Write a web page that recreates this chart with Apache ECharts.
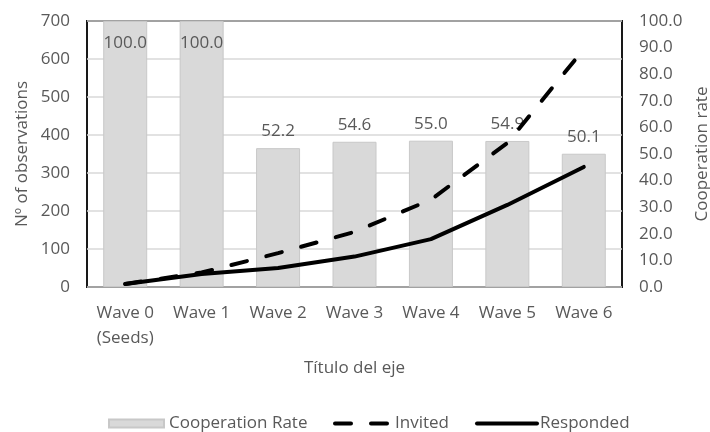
<!DOCTYPE html>
<html>
<head>
<meta charset="utf-8">
<script src="https://cdn.jsdelivr.net/npm/echarts@6/dist/echarts.min.js"></script>
<style>
  html, body { margin: 0; padding: 0; background: #fff; }
  #chart { width: 710px; height: 432px; }
</style>
</head>
<body>
<div id="chart"></div>
<script>
// Survey waves and their figures
const waves = ['Wave 0\n(Seeds)', 'Wave 1', 'Wave 2', 'Wave 3', 'Wave 4', 'Wave 5', 'Wave 6'];
const cooperationRate = [100.0, 100.0, 52.2, 54.6, 55.0, 54.9, 50.1];
const invited = [8, 38, 89, 145, 230, 379, 626];
const responded = [8, 34, 50, 80, 126, 216, 316];

const FONT = '"Open Sans", sans-serif';
const TEXT = '#595959';
const GRID = { left: 87, right: 88, top: 21, bottom: 145 };

const chart = echarts.init(document.getElementById('chart'), null, { renderer: 'canvas' });

const legendText = { fontFamily: FONT, fontSize: 17, color: TEXT };
const plotMidY = GRID.top + (432 - GRID.top - GRID.bottom) / 2;

chart.setOption({
  animation: false,
  backgroundColor: '#fff',
  textStyle: { fontFamily: FONT },
  grid: Object.assign({
    outerBoundsMode: 'none',
    containLabel: false,
    show: true, borderColor: '#000', borderWidth: 1.8, backgroundColor: 'transparent'
  }, GRID),
  legend: [
    {
      left: 108, top: 415, padding: 0, itemWidth: 55, itemHeight: 8, itemGap: 0, selectedMode: false,
      textStyle: legendText,
      data: [{ name: 'Cooperation Rate', icon: 'rect' }]
    },
    {
      left: 333, top: 415, padding: 0, itemWidth: 55, itemHeight: 14, itemGap: 0, selectedMode: false,
      textStyle: legendText,
      itemStyle: { opacity: 0 },
      lineStyle: { width: 4 },
      data: ['Invited']
    },
    {
      left: 475, top: 415, padding: 0, itemWidth: 60, itemHeight: 14, itemGap: 0, selectedMode: false,
      textStyle: Object.assign({}, legendText, { padding: [0, 0, 0, -2] }),
      itemStyle: { opacity: 0 },
      lineStyle: { width: 4 },
      data: ['Responded']
    }
  ],
  // vertical axis titles
  graphic: [
    {
      type: 'text', x: 22, y: plotMidY, rotation: Math.PI / 2,
      style: { text: 'Nº of observations', font: '17px ' + FONT, fill: TEXT,
               align: 'center', verticalAlign: 'middle' }
    },
    {
      type: 'text', x: 702, y: plotMidY, rotation: Math.PI / 2,
      style: { text: 'Cooperation rate', font: '17px ' + FONT, fill: TEXT,
               align: 'center', verticalAlign: 'middle' }
    }
  ],
  xAxis: {
    type: 'category',
    data: waves,
    name: 'Título del eje',
    nameLocation: 'middle',
    nameGap: 73,
    nameTextStyle: { fontFamily: FONT, fontSize: 17, color: TEXT },
    axisLine: { show: false },
    axisTick: { show: false },
    axisLabel: { fontFamily: FONT, fontSize: 17, color: TEXT, margin: 14, lineHeight: 25, interval: 0 }
  },
  yAxis: [
    {
      type: 'value',
      min: 0, max: 700, interval: 100,
      axisLine: { show: false },
      axisTick: { show: false },
      axisLabel: { fontFamily: FONT, fontSize: 17, color: TEXT, margin: 17 },
      splitLine: { show: true, lineStyle: { color: '#d9d9d9', width: 1.5 } }
    },
    {
      type: 'value',
      min: 0, max: 100, interval: 10,
      axisLine: { show: false },
      axisTick: { show: false },
      axisLabel: { fontFamily: FONT, fontSize: 17, color: TEXT, margin: 17,
                   formatter: v => v.toFixed(1) },
      splitLine: { show: false }
    }
  ],
  series: [
    {
      name: 'Cooperation Rate',
      type: 'bar',
      yAxisIndex: 1,
      barWidth: 44,
      z: 1,
      itemStyle: { color: '#d9d9d9', borderColor: '#c8c8c8', borderWidth: 1 },
      data: cooperationRate.map(v => ({
        value: v,
        label: v >= 100 ? { position: 'insideTop', distance: 14 } : { position: 'top', distance: 8 }
      })),
      label: {
        show: true,
        fontFamily: FONT, fontSize: 17, color: TEXT,
        formatter: p => p.value.toFixed(1)
      }
    },
    {
      name: 'Invited',
      type: 'line',
      yAxisIndex: 0,
      symbol: 'none',
      z: 3,
      lineStyle: { color: '#000', width: 4, type: [16, 20], cap: 'round', join: 'round' },
      itemStyle: { color: '#000' },
      data: invited
    },
    {
      name: 'Responded',
      type: 'line',
      yAxisIndex: 0,
      symbol: 'none',
      z: 4,
      lineStyle: { color: '#000', width: 4, cap: 'round', join: 'round' },
      itemStyle: { color: '#000' },
      data: responded
    }
  ]
});
</script>
</body>
</html>
